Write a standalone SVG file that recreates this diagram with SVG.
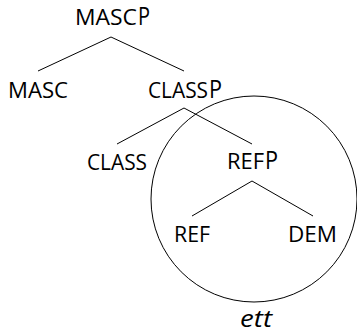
<svg xmlns="http://www.w3.org/2000/svg" width="357" height="332" viewBox="0 0 357 332">
<style>
text{font-family:"Open Sans","Noto Sans",sans-serif;fill:#000;font-size:21px;font-weight:500}
.p{font-size:25px;font-weight:400}
.it{font-style:italic;font-size:23px;font-weight:400}
line,circle{stroke:#000;stroke-width:1;fill:none}
</style>
<rect width="357" height="332" fill="#fff"/>
<g id="connectors">
<line x1="111" y1="37" x2="38" y2="71"/>
<line x1="111" y1="37" x2="184" y2="71"/>
<line x1="184" y1="108" x2="117" y2="144"/>
<line x1="184" y1="108" x2="252" y2="144"/>
<line x1="252" y1="181" x2="192" y2="216"/>
<line x1="252" y1="181" x2="313" y2="216"/>
</g>
<g id="circle"><circle cx="254" cy="199" r="103"/></g>
<g id="MASCP"><text x="75" y="25"><tspan textLength="62" lengthAdjust="spacingAndGlyphs">MASC</tspan><tspan class="p" x="138" textLength="12" lengthAdjust="spacingAndGlyphs">P</tspan></text></g>
<g id="MASC"><text x="8" y="98" textLength="60" lengthAdjust="spacingAndGlyphs">MASC</text></g>
<g id="CLASSP"><text x="148" y="98"><tspan textLength="60" lengthAdjust="spacingAndGlyphs">CLASS</tspan><tspan class="p" x="209" textLength="13" lengthAdjust="spacingAndGlyphs">P</tspan></text></g>
<g id="CLASS"><text x="87" y="170" textLength="60" lengthAdjust="spacingAndGlyphs">CLASS</text></g>
<g id="REFP"><text x="227" y="169"><tspan textLength="37" lengthAdjust="spacingAndGlyphs">REF</tspan><tspan class="p" x="265" textLength="13" lengthAdjust="spacingAndGlyphs">P</tspan></text></g>
<g id="REF"><text x="174" y="242" textLength="36" lengthAdjust="spacingAndGlyphs">REF</text></g>
<g id="DEM"><text x="288" y="242" textLength="49" lengthAdjust="spacingAndGlyphs">DEM</text></g>
<g id="ett"><text class="it" x="240" y="327" textLength="32" lengthAdjust="spacingAndGlyphs">ett</text></g>
</svg>
